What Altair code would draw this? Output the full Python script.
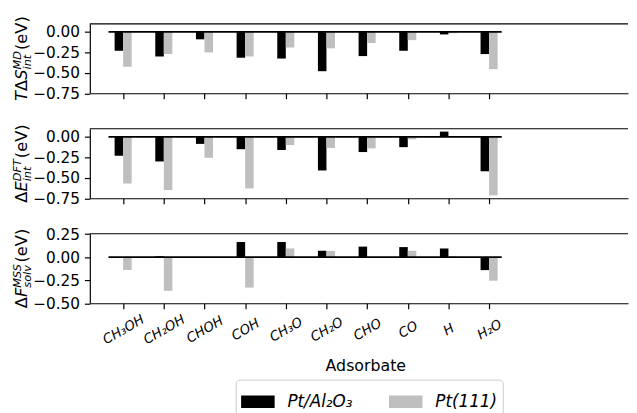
import json
import altair as alt
import pandas as pd

# ---------------- data ----------------
adsorbates = ["CH₃OH", "CH₂OH", "CHOH", "COH", "CH₃O", "CH₂O", "CHO", "CO", "H", "H₂O"]
materials = ["Pt/Al₂O₃", "Pt(111)"]
colors = ["#000000", "#bfbfbf"]

tds_al = [-0.23, -0.30, -0.09, -0.315, -0.325, -0.48, -0.295, -0.23, -0.03, -0.27]
tds_pt = [-0.425, -0.27, -0.25, -0.30, -0.19, -0.20, -0.135, -0.10, -0.015, -0.455]

de_al = [-0.23, -0.30, -0.085, -0.15, -0.16, -0.41, -0.185, -0.125, 0.065, -0.42]
de_pt = [-0.57, -0.65, -0.255, -0.63, -0.10, -0.135, -0.14, -0.03, -0.005, -0.715]

df_al = [0.0, 0.01, 0.0, 0.165, 0.165, 0.07, 0.115, 0.11, 0.095, -0.14]
df_pt = [-0.14, -0.365, 0.0, -0.33, 0.095, 0.068, 0.0, 0.07, 0.01, -0.255]

yticks_top = [0.0, -0.25, -0.5, -0.75]
yticks_bot = [0.25, 0.0, -0.25, -0.5]

# ---------------- layout constants ----------------
W = 546
H = 70.5
PX_PER_UNIT = 41.25
X0 = -0.82
X_DOMAIN = [X0, X0 + W / PX_PER_UNIT]
BAR_W = 0.21
ZERO_X = (-0.36, 9.31)
TITLE_X = -63.6
FONT = "DejaVu Sans"
MAIN_FS = 16.5
SCRIPT_FS = 11.5
TICK = 5.5

# DejaVu Sans advance widths (em)
CW = {"T": 0.611, "Δ": 0.684, "S": 0.635, "E": 0.632, "F": 0.575, "M": 0.863,
      "D": 0.770, "i": 0.278, "n": 0.634, "t": 0.392, "s": 0.521, "o": 0.612,
      "l": 0.278, "v": 0.592, "(": 0.390, ")": 0.390, "e": 0.615, "V": 0.684}


def tw(text, size):
    return sum(CW.get(c, 0.6) for c in text) * size


def bars_df(al, pt):
    rows = []
    for i, name in enumerate(adsorbates):
        rows.append({"ads": name, "mat": materials[0], "x0": i - BAR_W, "x1": i, "v": al[i]})
        rows.append({"ads": name, "mat": materials[1], "x0": i, "x1": i + BAR_W, "v": pt[i]})
    return pd.DataFrame(rows)


one = pd.DataFrame({"k": [0]})


def title_marks(segments):
    # segments: ("m", text, style) or ("ss", sup, sub)
    total = 0.0
    for s in segments:
        if s[0] == "m":
            total += tw(s[1], MAIN_FS)
        else:
            total += max(tw(s[1], SCRIPT_FS), tw(s[2], SCRIPT_FS)) + 1
    cum = -total / 2
    marks = []
    for s in segments:
        if s[0] == "m":
            marks.append(alt.Chart(one).mark_text(
                angle=270, align="left", baseline="alphabetic", font=FONT,
                fontSize=MAIN_FS, fontStyle=s[2], dx=cum, dy=0, color="black"
            ).encode(x=alt.value(TITLE_X), y=alt.value(H / 2), text=alt.value(s[1])))
            cum += tw(s[1], MAIN_FS)
        else:
            for txt, off in ((s[1], -6.5), (s[2], 3.5)):
                marks.append(alt.Chart(one).mark_text(
                    angle=270, align="left", baseline="alphabetic", font=FONT,
                    fontSize=SCRIPT_FS, fontStyle="italic", dx=cum, dy=off, color="black"
                ).encode(x=alt.value(TITLE_X), y=alt.value(H / 2), text=alt.value(txt)))
            cum += max(tw(s[1], SCRIPT_FS), tw(s[2], SCRIPT_FS)) + 1
    return marks


label_arr = json.dumps(adsorbates, ensure_ascii=False)

legend = alt.Legend(
    title=None, orient="none", legendX=148, legendY=361, direction="horizontal",
    symbolType="M-1,-0.37H1V0.37H-1Z", symbolSize=1156, symbolStrokeWidth=0,
    labelFontSize=17, labelFontStyle="italic", labelFont=FONT, labelOffset=13,
    columnPadding=36, padding=5.5, strokeColor="#cccccc", cornerRadius=4,
    fillColor="white", labelColor="black",
)


def panel(al, pt, ydomain, yticks, segments, bottom):
    xaxis = alt.Axis(
        values=list(range(len(adsorbates))), tickCount=20, grid=False, tickSize=TICK,
        tickWidth=1.2, tickColor="black", domainColor="black", domainWidth=1.2,
        labels=bottom, labelExpr=f"{label_arr}[datum.value]",
        labelAngle=330, labelAlign="center", labelBaseline="middle",
        labelPadding=21, labelFontSize=13.5, labelFontStyle="italic", labelFont=FONT,
        labelColor="black", labelFlush=False, labelOverlap=False,
        title="Adsorbate" if bottom else None, titleFontSize=16,
        titleFontWeight="normal", titleFont=FONT, titleColor="black", titlePadding=12,
        titleX=279.5,
    )
    yaxis = alt.Axis(
        values=yticks, tickCount=10, format=".2f", grid=False, tickSize=TICK, tickWidth=1.2,
        tickColor="black", domainColor="black", domainWidth=1.2,
        labelFontSize=15.5, labelFont=FONT, labelColor="black", labelPadding=5,
        labelOverlap=False, labelFlush=False, title=None,
    )
    bars = alt.Chart(bars_df(al, pt)).mark_rect().encode(
        x=alt.X("x0:Q", scale=alt.Scale(domain=X_DOMAIN, nice=False, zero=False), axis=xaxis),
        x2="x1",
        y=alt.Y("v:Q", scale=alt.Scale(domain=ydomain, nice=False, zero=False), axis=yaxis),
        y2=alt.datum(0),
        color=alt.Color("mat:N", scale=alt.Scale(domain=materials, range=colors), legend=legend),
    )
    zero = alt.Chart(one).mark_rule(color="black", strokeWidth=1.8).encode(
        x=alt.datum(ZERO_X[0]), x2=alt.datum(ZERO_X[1]), y=alt.datum(0)
    )
    top = alt.Chart(one).mark_rule(color="black", strokeWidth=1.2).encode(
        x=alt.value(0), x2=alt.value(W), y=alt.value(0)
    )
    return alt.layer(bars, zero, top, *title_marks(segments)).properties(width=W, height=H)


p1 = panel(tds_al, tds_pt, [-0.75, 0.1], yticks_top,
           [("m", "T", "italic"), ("m", "Δ", "normal"), ("m", "S", "italic"),
            ("ss", "MD", "int"), ("m", "(eV)", "normal")], False)
p2 = panel(de_al, de_pt, [-0.75, 0.1], yticks_top,
           [("m", "Δ", "normal"), ("m", "E", "italic"),
            ("ss", "DFT", "int"), ("m", "(eV)", "normal")], False)
p3 = panel(df_al, df_pt, [-0.5, 0.255], yticks_bot,
           [("m", "Δ", "normal"), ("m", "F", "italic"),
            ("ss", "MSS", "solv"), ("m", "(eV)", "normal")], True)

chart = alt.vconcat(p1, p2, p3, spacing=35.5, bounds="flush").resolve_scale(
    y="independent", color="shared"
).resolve_legend(color="shared").properties(
    padding={"left": 3, "top": 5, "right": 0, "bottom": 5}
).configure(font=FONT).configure_view(stroke=None)

chart.save("out.html", embed_options={"renderer": "svg", "actions": False})
